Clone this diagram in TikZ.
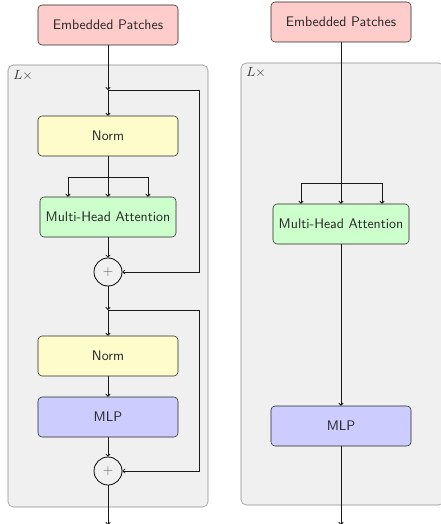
\documentclass[tikz,border=0pt]{standalone}
\usetikzlibrary{arrows.meta}
\begin{document}
\begin{tikzpicture}[x=0.75pt,y=-0.75pt,
  blk/.style={draw=black!85, rounded corners=3pt, minimum height=30pt, inner sep=0pt,
    font=\sffamily\fontsize{10.4pt}{12pt}\selectfont, text=black!85},
  wide/.style={blk, minimum width=105pt},
  mid/.style={blk, minimum width=102pt},
  addnode/.style={draw=black, line width=0.6pt, circle, minimum size=21pt, inner sep=0pt, text=black!60},
  group/.style={draw=black!45, fill=black!6, rounded corners=4pt},
  conn/.style={draw=black!90, line width=0.6pt},
  arr/.style={conn, -{To[length=2.2pt,width=3.6pt]}},
  lbl/.style={font=\fontsize{10.4pt}{12pt}\selectfont, text=black!80, anchor=west, inner sep=0pt}
]
\useasboundingbox (0,0) rectangle (440,524);
% ---------- left ----------
\draw[group] (8,65) rectangle (208,507);
\node[lbl] (lx1) at (13,76) {$L\times$};
\node[wide, fill=red!20] (ep1) at (108,25) {Embedded Patches};
\node[wide, fill=yellow!20] (norm1) at (108,136) {Norm};
\node[mid, fill=green!20] (mha1) at (108,217) {Multi-Head Attention};
\node[addnode] (plus1) at (108,272) {$+$};
\node[wide, fill=yellow!20] (norm2) at (108,356) {Norm};
\node[wide, fill=blue!20] (mlp1) at (108,417) {MLP};
\node[addnode] (plus2) at (108,471) {$+$};
\coordinate (j1) at (108,90);
\coordinate (r1) at (199,90);
\coordinate (j2) at (108,310);
\coordinate (r2) at (199,310);
\coordinate (s1) at (108,177);
\coordinate (s1l) at (68,177);
\coordinate (s1r) at (148,177);
\coordinate (out1) at (108,525);

\draw[arr] (ep1.south) -- (j1);
\draw[arr] (j1) -- (norm1.north);
\draw[conn] (j1) -- (r1);
\draw[arr] (r1) |- (plus1.east);
\draw[conn] (norm1.south) -- (s1);
\draw[conn] (s1l) -- (s1r);
\draw[arr] (s1) -- (mha1.north);
\draw[arr] (s1l) -- (s1l |- mha1.north);
\draw[arr] (s1r) -- (s1r |- mha1.north);
\draw[arr] (mha1.south) -- (plus1.north);
\draw[arr] (plus1.south) -- (j2);
\draw[arr] (j2) -- (norm2.north);
\draw[conn] (j2) -- (r2);
\draw[arr] (r2) |- (plus2.east);
\draw[arr] (norm2.south) -- (mlp1.north);
\draw[arr] (mlp1.south) -- (plus2.north);
\draw[arr] (plus2.south) -- (out1);
% ---------- right ----------
\draw[group] (241,63) rectangle (444,505);
\node[lbl] (lx2) at (246,73) {$L\times$};
\node[wide, fill=red!20] (ep2) at (341,22) {Embedded Patches};
\node[mid, fill=green!20] (mha2) at (341,224) {Multi-Head Attention};
\node[wide, fill=blue!20] (mlp2) at (341,426) {MLP};
\coordinate (s2) at (341,183);
\coordinate (s2l) at (301,183);
\coordinate (s2r) at (382,183);
\coordinate (out2) at (341,525);
\draw[arr] (ep2.south) -- (mha2.north);
\draw[conn] (s2l) -- (s2r);
\draw[arr] (s2l) -- (s2l |- mha2.north);
\draw[arr] (s2r) -- (s2r |- mha2.north);
\draw[arr] (mha2.south) -- (mlp2.north);
\draw[arr] (mlp2.south) -- (out2);
\end{tikzpicture}
\end{document}
